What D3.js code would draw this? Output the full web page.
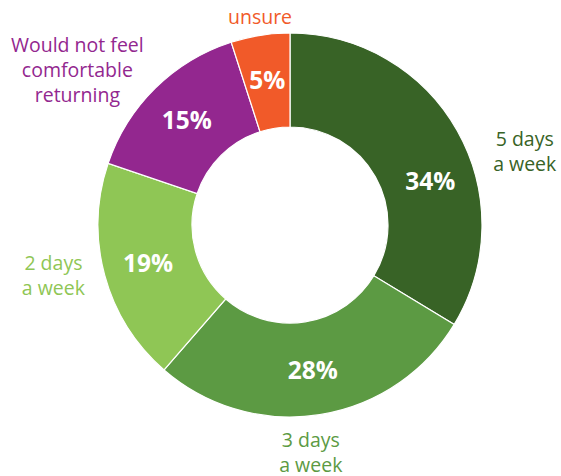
<!DOCTYPE html>
<html>
<head>
<meta charset="utf-8">
<script src="https://cdn.jsdelivr.net/npm/d3@7"></script>
<style>
  body { margin: 0; background: #fff; }
  svg { display: block; font-family: "Open Sans", "Noto Sans", sans-serif; }
</style>
</head>
<body>
<div id="chart"></div>
<script>
// data, clockwise from 12 o'clock
var categories = ["5 days a week", "3 days a week", "2 days a week", "Would not feel comfortable returning", "unsure"];
var labelLines = [["5 days", "a week"], ["3 days", "a week"], ["2 days", "a week"], ["Would not feel", "comfortable", "returning"], ["unsure"]];
var shares = [34, 28, 19, 15, 5];
var colors = ["#386326", "#5c9a43", "#8fc655", "#93278f", "#f15a29"];

// label placement: nudges (degrees) from the slice mid angle, and radius
var pctNudge = [12, 0, 0, 0, 0];
var outNudge = [12, 3.7, 3, -9.4, 0.7];
var outRadius = [246, 229, 242, 263, 210];

var width = 561, height = 476;
var cx = 290, cy = 225;
var outerR = 192, innerR = 98, pctR = 147;

var svg = d3.select("#chart").append("svg")
    .attr("width", width)
    .attr("height", height);

var g = svg.append("g").attr("transform", "translate(" + cx + "," + cy + ")");

var pie = d3.pie().sort(null).value(function(d){ return d; });
var arcs = pie(shares);

var arc = d3.arc().innerRadius(innerR).outerRadius(outerR);

g.selectAll("path.slice").data(arcs).enter().append("path")
    .attr("class", "slice")
    .attr("d", arc)
    .attr("fill", function(d, i){ return colors[i]; })
    .attr("stroke", "#fff")
    .attr("stroke-width", 1.2);

function polar(angle, r){
    return [Math.sin(angle) * r, -Math.cos(angle) * r];
}

// percentage labels inside the ring
g.selectAll("text.pct").data(arcs).enter().append("text")
    .attr("class", "pct")
    .attr("transform", function(d, i){
        var a = (d.startAngle + d.endAngle) / 2 + pctNudge[i] * Math.PI / 180;
        var p = polar(a, pctR);
        return "translate(" + p[0] + "," + p[1] + ")";
    })
    .attr("text-anchor", "middle")
    .attr("dy", "0.36em")
    .attr("fill", "#fff")
    .style("font-weight", "bold")
    .style("font-size", "24.5px")
    .text(function(d){ return d.data + "%"; });

// category labels outside the ring
var lineH = 25;
var outLabels = g.selectAll("text.cat").data(arcs).enter().append("text")
    .attr("class", "cat")
    .attr("text-anchor", "middle")
    .attr("fill", function(d, i){ return colors[i]; })
    .style("font-size", "19.5px")
    .attr("transform", function(d, i){
        var a = (d.startAngle + d.endAngle) / 2 + outNudge[i] * Math.PI / 180;
        var p = polar(a, outRadius[i]);
        return "translate(" + p[0] + "," + p[1] + ")";
    });

outLabels.each(function(d, i){
    var lines = labelLines[i];
    var t = d3.select(this);
    lines.forEach(function(line, j){
        t.append("tspan")
            .attr("x", 0)
            .attr("y", (j - (lines.length - 1) / 2) * lineH)
            .attr("dy", "0.35em")
            .text(line);
    });
});
</script>
</body>
</html>
